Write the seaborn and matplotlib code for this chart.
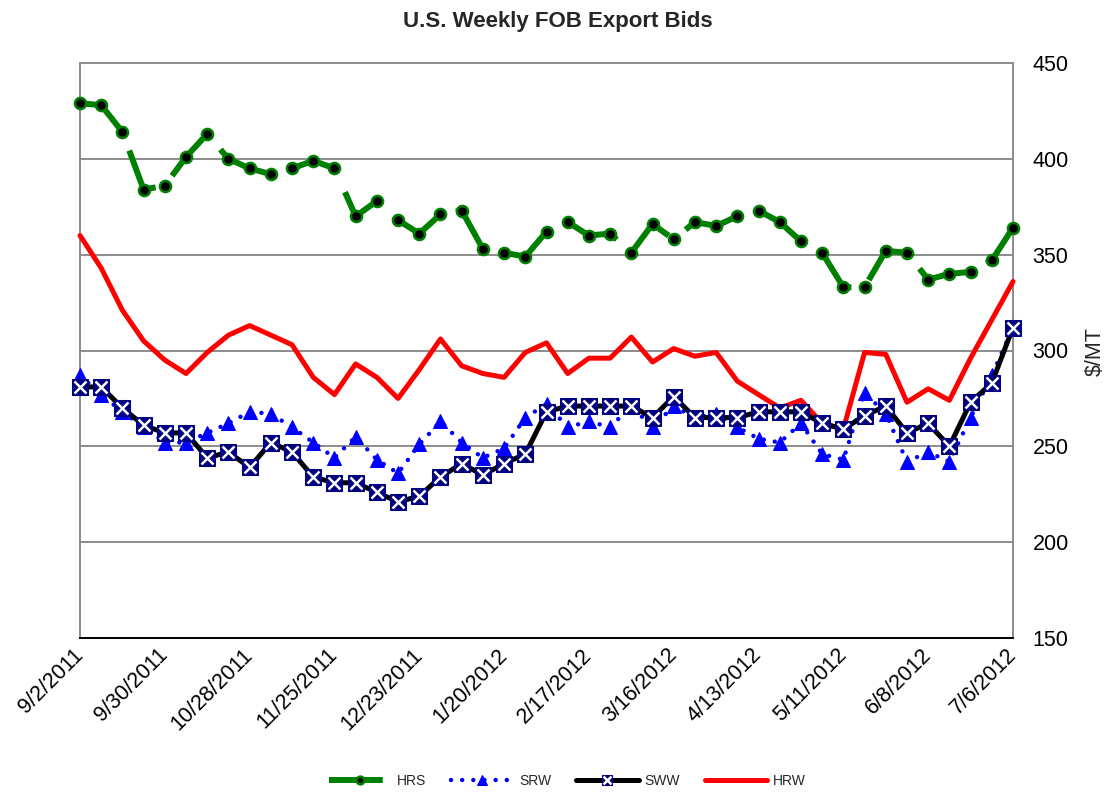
import numpy as np
import pandas as pd
import matplotlib
matplotlib.use("Agg")
import matplotlib.pyplot as plt
import seaborn as sns
from matplotlib.legend_handler import HandlerTuple

# ---- data (weekly, 9/2/2011 .. 7/6/2012) ----
week = list(range(45))
tick_labels = ["9/2/2011", "9/30/2011", "10/28/2011", "11/25/2011", "12/23/2011",
               "1/20/2012", "2/17/2012", "3/16/2012", "4/13/2012", "5/11/2012",
               "6/8/2012", "7/6/2012"]
hrs = [429, 428, 414, 384, 386, 401, 413, 400, 395, 392, 395, 399, 395, 370, 378,
       368, 361, 371, 373, 353, 351, 349, 362, 367, 360, 361, 351, 366, 358, 367,
       365, 370, 373, 367, 357, 351, 333, 333, 352, 351, 337, 340, 341, 347, 364]
srw = [287, 277, 268, 260, 252, 252, 257, 262, 268, 267, 260, 252, 244, 255, 243,
       236, 251, 263, 252, 244, 249, 265, 272, 260, 263, 260, 271, 260, 271, 265,
       267, 260, 254, 252, 262, 246, 243, 278, 267, 242, 247, 242, 265, 287, 312]
sww = [281, 281, 270, 261, 257, 257, 244, 247, 239, 252, 247, 234, 231, 231, 226,
       221, 224, 234, 241, 235, 241, 246, 268, 271, 271, 271, 271, 265, 276, 265,
       265, 265, 268, 268, 268, 262, 259, 266, 271, 257, 262, 250, 273, 283, 312]
hrw = [360, 343, 321, 305, 295, 288, 299, 308, 313, 308, 303, 286, 277, 293, 286,
       275, 290, 306, 292, 288, 286, 299, 304, 288, 296, 296, 307, 294, 301, 297,
       299, 284, 277, 270, 274, 262, 259, 299, 298, 273, 280, 274, 296, 316, 336]

df = pd.DataFrame({"week": week, "HRS": hrs, "SRW": srw, "SWW": sww, "HRW": hrw})

sns.set_theme(style="white")
plt.rcParams["font.family"] = ["Liberation Sans", "DejaVu Sans"]

fig = plt.figure(figsize=(11.07, 7.92), dpi=100)
fig.patch.set_facecolor("white")
ax = fig.add_axes([80 / 1107, 1 - 638 / 792, (1013 - 80) / 1107, (638 - 63) / 792])
ax.set_facecolor("white")

# HRS
sns.lineplot(data=df, x="week", y="HRS", ax=ax, color="#008000", lw=4.3,
             marker="o", markersize=8, markerfacecolor="black",
             markeredgecolor="#008000", markeredgewidth=1.8, label="HRS", zorder=3)
l_hrs = ax.lines[-1]
l_hrs.set_dashes([9, 3.6])

# SRW
sns.lineplot(data=df, x="week", y="SRW", ax=ax, color="#0000FF", lw=3.2,
             marker="^", markersize=10, markerfacecolor="#0000FF",
             markeredgecolor="#0000FF", label="SRW", zorder=4)
l_srw = ax.lines[-1]
l_srw.set_dashes([0.01, 2.5])
l_srw.set_dash_capstyle("round")

# HRW
sns.lineplot(data=df, x="week", y="HRW", ax=ax, color="#FF0000", lw=3.6,
             label="HRW", zorder=5)
l_hrw = ax.lines[-1]

# SWW
sns.lineplot(data=df, x="week", y="SWW", ax=ax, color="black", lw=3.6,
             marker="s", markersize=11, markerfacecolor="#000080",
             markeredgecolor="#000080", label="SWW", zorder=6)
l_sww = ax.lines[-1]
l_swx, = ax.plot(df["week"], df["SWW"], linestyle="none", marker="x",
                 markersize=8, markeredgecolor="white", markeredgewidth=1.8, zorder=7)

for ln in ax.lines:
    ln.set_clip_on(False)

ax.set_xlim(0, 44)
ax.set_ylim(150, 450)
ax.set_yticks(range(150, 451, 50))
ax.set_xticks(range(0, 45, 4))
ax.set_xticklabels(tick_labels, rotation=45, ha="right", va="center",
                   rotation_mode="anchor", fontsize=15.5)
ax.yaxis.tick_right()
ax.tick_params(axis="y", length=0, pad=14, labelsize=15.5, labelcolor="black")
ax.tick_params(axis="x", length=0, pad=10, labelcolor="black")
ax.set_xlabel("")
ax.set_ylabel("")
ax.yaxis.grid(True, color="#8c8c8c", lw=1.4)
ax.xaxis.grid(False)
ax.set_axisbelow(True)
for side in ["left", "right", "top"]:
    ax.spines[side].set_color("#8c8c8c")
    ax.spines[side].set_linewidth(1.4)
ax.spines["bottom"].set_color("black")
ax.spines["bottom"].set_linewidth(1.4)

leg = ax.get_legend()
if leg is not None:
    leg.remove()

fig.text(558 / 1107, 1 - 21 / 792, "U.S. Weekly FOB Export Bids", ha="center",
         va="center", fontsize=16, fontweight="bold")
fig.text(1095 / 1107, 1 - 352 / 792, "$/MT", rotation=90, ha="center",
         va="center", fontsize=15.5)

fig.legend([l_hrs, l_srw, (l_sww, l_swx), l_hrw], ["HRS", "SRW", "SWW", "HRW"],
           handler_map={tuple: HandlerTuple(ndivide=1, pad=0)},
           loc="center", bbox_to_anchor=(567 / 1107, 11 / 792), ncol=4,
           frameon=False, fontsize=10, handlelength=4.5, columnspacing=1.8,
           handletextpad=0.4, markerscale=0.7)

fig.savefig("out.png", dpi=100, facecolor="white")
